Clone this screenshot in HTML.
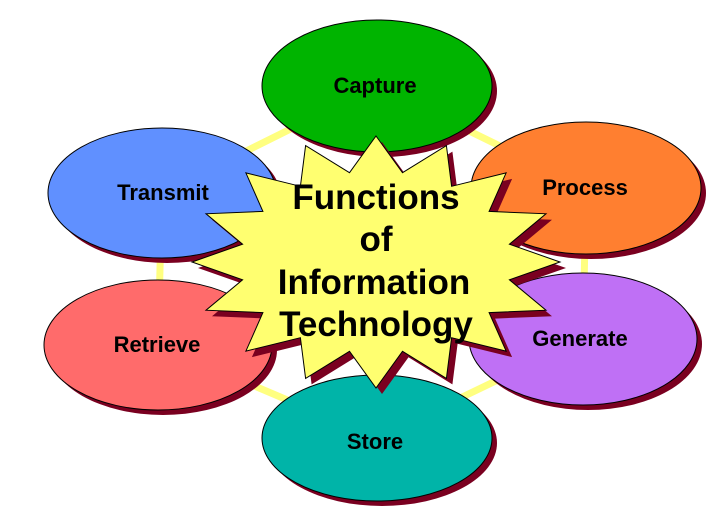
<!DOCTYPE html>
<html><head><meta charset="utf-8"><style>
html,body{margin:0;padding:0;background:#fff;}
svg{display:block;}
text{font-family:"Liberation Sans",Arial,sans-serif;font-weight:bold;fill:#000;text-anchor:middle;}
</style></head><body>
<svg width="723" height="529" viewBox="0 0 723 529" xmlns="http://www.w3.org/2000/svg">
<g stroke="#ffff80" stroke-width="7" fill="none">
<polyline points="377,86 162,193 158,345 377,438 583,339 586,188 377,86"/>
</g>
<g stroke="#000" stroke-width="1">
<ellipse cx="382" cy="91" rx="115" ry="66" fill="#7a0020" stroke="none"/>
<ellipse cx="377" cy="86" rx="115" ry="66" fill="#00b400"/>
<ellipse cx="591" cy="193" rx="115" ry="66" fill="#7a0020" stroke="none"/>
<ellipse cx="586" cy="188" rx="115" ry="66" fill="#ff7f30"/>
<ellipse cx="588" cy="344" rx="114" ry="66" fill="#7a0020" stroke="none"/>
<ellipse cx="583" cy="339" rx="114" ry="66" fill="#bf70f5"/>
<ellipse cx="382" cy="443" rx="115" ry="63" fill="#7a0020" stroke="none"/>
<ellipse cx="377" cy="438" rx="115" ry="63" fill="#00b4a8"/>
<ellipse cx="163" cy="350" rx="114" ry="65" fill="#7a0020" stroke="none"/>
<ellipse cx="158" cy="345" rx="114" ry="65" fill="#ff6b6b"/>
<ellipse cx="167" cy="198" rx="114" ry="65" fill="#7a0020" stroke="none"/>
<ellipse cx="162" cy="193" rx="114" ry="65" fill="#6090ff"/>
</g>
<text x="375" y="93" font-size="22">Capture</text>
<text x="585" y="195" font-size="22">Process</text>
<text x="580" y="346" font-size="22">Generate</text>
<text x="375" y="449" font-size="22">Store</text>
<text x="157" y="352" font-size="22">Retrieve</text>
<text x="163" y="200" font-size="22">Transmit</text>
<g transform="translate(6,6)"><polygon id="s" fill="#7a0020" points=""/></g>
<polygon id="star" fill="#ffff70" stroke="#000" stroke-width="1" points=""/>
<script>
(function(){var cx=376,cy=262,orx=184,ory=126,irx=136,iry=91,p=[];
for(var i=0;i<32;i++){var a=-Math.PI/2+i*Math.PI/16;var o=i%2==0;
p.push((cx+(o?orx:irx)*Math.cos(a)).toFixed(1)+","+(cy+(o?ory:iry)*Math.sin(a)).toFixed(1));}
var s=p.join(" ");document.getElementById("s").setAttribute("points",s);
document.getElementById("star").setAttribute("points",s);})();
</script>
<text x="376" y="209" font-size="35">Functions</text>
<text x="376" y="251" font-size="35">of</text>
<text x="374" y="294" font-size="35">Information</text>
<text x="376" y="336" font-size="35">Technology</text>
</svg>
</body></html>
